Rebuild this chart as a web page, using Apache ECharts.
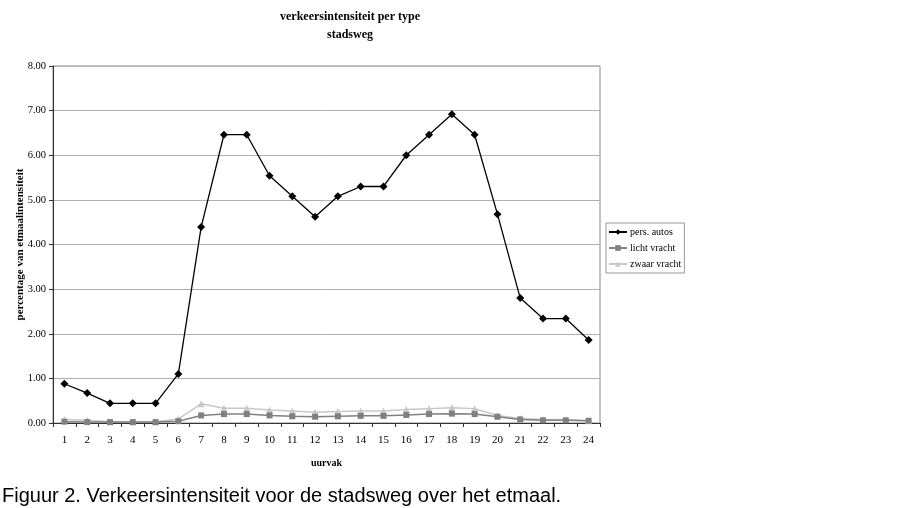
<!DOCTYPE html>
<html><head><meta charset="utf-8">
<script src="https://cdn.jsdelivr.net/npm/echarts@6/dist/echarts.min.js"></script>
<style>html,body{margin:0;padding:0;background:#fff}#c{width:918px;height:508px}</style>
</head><body><div id="c"></div>
<script>
const hours = ['1','2','3','4','5','6','7','8','9','10','11','12','13','14','15','16','17','18','19','20','21','22','23','24'];
const persAutos = [0.88,0.67,0.44,0.44,0.44,1.10,4.39,6.46,6.46,5.54,5.08,4.62,5.08,5.30,5.30,6.00,6.46,6.92,6.46,4.68,2.80,2.34,2.34,1.86];
const lichtVracht = [0.03,0.02,0.02,0.02,0.02,0.04,0.17,0.20,0.20,0.17,0.15,0.14,0.15,0.16,0.16,0.18,0.20,0.21,0.20,0.14,0.08,0.06,0.06,0.05];
const zwaarVracht = [0.08,0.06,0.03,0.03,0.03,0.09,0.43,0.33,0.33,0.29,0.27,0.24,0.26,0.27,0.27,0.30,0.32,0.34,0.32,0.17,0.10,0.08,0.08,0.05];
const seriesNames = ['pers. autos','licht vracht','zwaar vracht'];

const chart = echarts.init(document.getElementById('c'), null, {renderer:'canvas'});
const serif = 'Liberation Serif';
chart.setOption({
  animation:false,
  title:[
    {text:'verkeersintensiteit per type\nstadsweg', left:345, textAlign:'center', top:3,
     textStyle:{fontFamily:serif, fontWeight:'bold', fontSize:12, lineHeight:18, color:'#000'}},
    {text:'Figuur 2. Verkeersintensiteit voor de stadsweg over het etmaal.', left:-3, top:481,
     textStyle:{fontFamily:'Liberation Sans', fontWeight:'normal', fontSize:20, color:'#000'}}
  ],
  legend:{
    orient:'vertical', left:606, top:223, itemWidth:18, itemHeight:7, itemGap:6,
    padding:[4,3,4,2], borderColor:'#999', borderWidth:1,
    textStyle:{fontFamily:serif, fontSize:10, color:'#000', padding:[0,0,0,-2]},
    data:seriesNames
  },
  grid:{left:53, right:318, top:66, bottom:85, show:true, borderColor:'#888', borderWidth:1,
        outerBoundsMode:'none', containLabel:false},
  xAxis:{
    type:'category', data:hours, boundaryGap:true,
    name:'uurvak', nameLocation:'middle', nameGap:35, nameMoveOverlap:false,
    nameTextStyle:{fontFamily:serif, fontWeight:'bold', fontSize:10, color:'#000'},
    axisLine:{lineStyle:{color:'#333', width:1}},
    axisTick:{show:true, length:4, lineStyle:{color:'#333'}},
    axisLabel:{fontFamily:serif, fontSize:11, color:'#000', margin:12}
  },
  yAxis:{
    type:'value', min:0, max:8, interval:1,
    name:'percentage van etmaalintensiteit', nameLocation:'middle', nameGap:27, nameMoveOverlap:false,
    nameTextStyle:{fontFamily:serif, fontWeight:'bold', fontSize:11, color:'#000'},
    axisLine:{show:true, lineStyle:{color:'#333', width:1}},
    axisTick:{show:true, length:4, lineStyle:{color:'#333'}},
    axisLabel:{fontFamily:serif, fontSize:10.5, color:'#000', margin:7, formatter:v=>v.toFixed(2)},
    splitLine:{lineStyle:{color:'#b0b0b0', width:1}}
  },
  series:[
    {name:seriesNames[2], type:'line', data:zwaarVracht, symbol:'triangle', symbolSize:7,
     itemStyle:{color:'#c8c8c8'}, lineStyle:{color:'#c8c8c8', width:1.5}, z:2},
    {name:seriesNames[1], type:'line', data:lichtVracht, symbol:'rect', symbolSize:6,
     itemStyle:{color:'#808080'}, lineStyle:{color:'#808080', width:1.5}, z:3},
    {name:seriesNames[0], type:'line', data:persAutos, symbol:'diamond', symbolSize:8,
     itemStyle:{color:'#000'}, lineStyle:{color:'#000', width:1.3}, z:4}
  ]
});
</script></body></html>
